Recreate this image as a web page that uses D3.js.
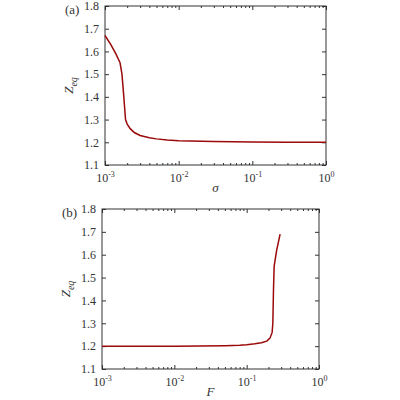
<!DOCTYPE html><html><head><script src="https://cdn.jsdelivr.net/npm/d3@7"></script>
<style>body{margin:0;background:#fff}text{font-family:"Liberation Serif",serif;fill:#333}</style></head><body>
<svg id="c" width="400" height="400"></svg>
<script>
const sigma=[0.001,0.0012,0.0014,0.0016,0.0017,0.0018,0.0019,0.002,0.0022,0.0025,0.003,0.004,0.005,0.007,0.01,0.03,0.1,0.3,1];
const zA=[1.67,1.63,1.59,1.55,1.5,1.4,1.3,1.28,1.26,1.243,1.23,1.22,1.215,1.21,1.207,1.203,1.201,1.2,1.2];
const F=[0.001,0.01,0.05,0.08,0.1,0.13,0.16,0.19,0.21,0.225,0.23,0.235,0.24,0.26,0.29];
const zB=[1.2,1.2,1.202,1.204,1.206,1.21,1.215,1.222,1.235,1.26,1.3,1.45,1.55,1.62,1.69];
const yTicks=[1.1,1.2,1.3,1.4,1.5,1.6,1.7,1.8];
const xTicks=[0.001,0.01,0.1,1];
const xPow=["-3","-2","-1","0"];
const svg=d3.select("#c");
function panel(L,R,T,B,xs,ys,xlab,tag){
  const x=d3.scaleLog().domain([0.001,1]).range([L,R]);
  const y=d3.scaleLinear().domain([1.1,1.8]).range([B,T]);
  const g=svg.append("g");
  const minor=[];for(let e=-3;e<0;e++)for(let k=2;k<10;k++)minor.push(k*Math.pow(10,e));
  const ax=(axis,tr)=>g.append("g").attr("transform",tr).call(axis).call(s=>{s.select(".domain").remove();s.selectAll("line").attr("stroke","#333");});
  ax(d3.axisBottom(x).tickValues(minor).tickSize(-2).tickFormat(""),`translate(0,${B})`);
  ax(d3.axisTop(x).tickValues(minor).tickSize(-2).tickFormat(""),`translate(0,${T})`);
  ax(d3.axisTop(x).tickValues(xTicks).tickSize(-4).tickFormat(""),`translate(0,${T})`);
  const xb=ax(d3.axisBottom(x).tickValues(xTicks).tickSize(-4).tickPadding(8).tickFormat(""),`translate(0,${B})`);
  xb.selectAll(".tick").append("text").attr("y",17).attr("text-anchor","middle").attr("font-size",12)
    .each(function(d,i){const t=d3.select(this);t.append("tspan").text("10");t.append("tspan").attr("dy",-5).attr("font-size",8).text(xPow[i]);});
  ax(d3.axisRight(y).tickValues(yTicks).tickSize(-4).tickFormat(""),`translate(${R},0)`);
  ax(d3.axisLeft(y).tickValues(yTicks).tickSize(-4).tickPadding(6).tickFormat(d3.format(".1f")),`translate(${L},0)`)
    .selectAll("text").attr("font-size",12).attr("fill","#333").style("font-family","Liberation Serif");
  g.append("rect").attr("x",L).attr("y",T).attr("width",R-L).attr("height",B-T).attr("fill","none").attr("stroke","#333").attr("stroke-width",1);
  g.append("path").datum(xs.map((v,i)=>[v,ys[i]])).attr("d",d3.line().x(d=>x(d[0])).y(d=>y(d[1]))).attr("fill","none").attr("stroke","#9b0a0a").attr("stroke-width",1.5);
  g.append("text").attr("x",(L+R)/2).attr("y",B+27).attr("text-anchor","middle").attr("font-size",13).attr("font-style","italic").text(xlab);
  const yl=g.append("text").attr("transform",`translate(${L-32},${(T+B)/2}) rotate(-90)`).attr("text-anchor","middle").attr("font-size",13).attr("font-style","italic");
  yl.append("tspan").text("Z");yl.append("tspan").attr("dy",4).attr("font-size",10).text("eq");
  g.append("text").attr("x",L-40).attr("y",T+8).attr("font-size",13).text(tag);
}
panel(105,326,6,165,sigma,zA,"σ","(a)");
panel(102,319,209,369,F,zB,"F","(b)");
</script></body></html>
